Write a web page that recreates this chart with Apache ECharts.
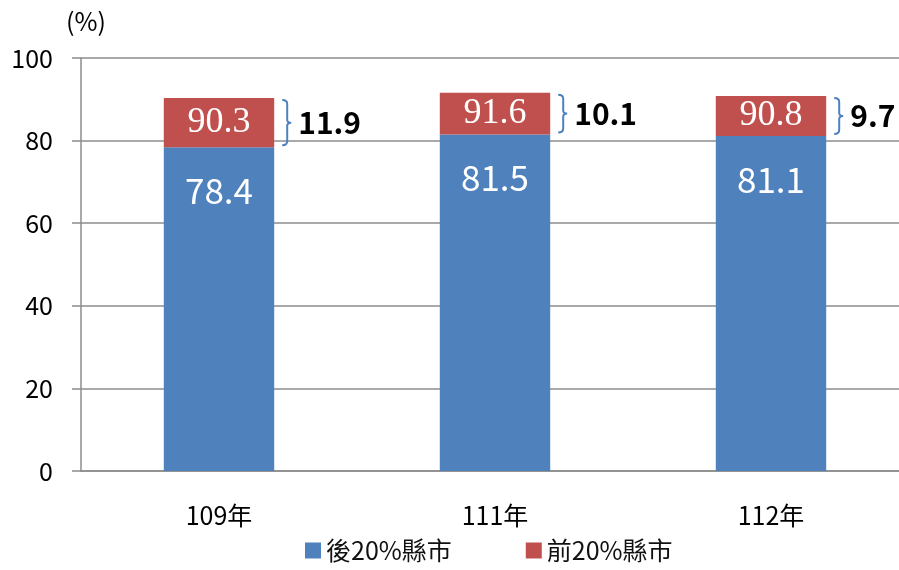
<!DOCTYPE html>
<html>
<head>
<meta charset="utf-8">
<script src="https://cdn.jsdelivr.net/npm/echarts@6/dist/echarts.min.js"></script>
<style>
  html, body { margin: 0; padding: 0; background: #fff; }
  #chart { width: 899px; height: 570px; }
</style>
</head>
<body>
<div id="chart"></div>
<script>
// 資料
const years = ['109年', '111年', '112年']
const lowGroup = [78.4, 81.5, 81.1]   // 後20%縣市
const highGroup = [90.3, 91.6, 90.8]  // 前20%縣市
const gapValues = [11.9, 10.1, 9.7]   // 差距
const yTicks = [0, 20, 40, 60, 80, 100]

const FONT = '"Noto Sans CJK TC", "Noto Sans", sans-serif'
const BLUE = '#4F81BD'
const RED = '#C0504D'
const GRAY = '#8c8c8c'

const chart = echarts.init(document.getElementById('chart'))

const braceData = years.map((y, i) => [i, lowGroup[i], highGroup[i], gapValues[i]])

chart.setOption({
    animation: false,
    grid: {
        left: 81,
        top: 58,
        bottom: 99,
        width: 828,
        outerBoundsMode: 'none'
    },
    legend: {
        data: ['後20%縣市', '前20%縣市'],
        bottom: 2,
        left: 300,
        itemWidth: 16,
        itemHeight: 16,
        itemGap: 74,
        icon: 'rect',
        textStyle: {
            fontFamily: FONT,
            fontSize: 25,
            color: '#111'
        }
    },
    xAxis: {
        type: 'category',
        data: years,
        axisLine: { lineStyle: { color: GRAY, width: 1.5 } },
        axisTick: { length: 9, lineStyle: { color: GRAY, width: 1.5 } },
        axisLabel: {
            margin: 32,
            fontFamily: FONT,
            fontSize: 25,
            color: '#000'
        }
    },
    yAxis: {
        type: 'value',
        min: yTicks[0],
        max: yTicks[yTicks.length - 1],
        interval: 20,
        name: '(%)',
        nameGap: 24,
        nameTextStyle: {
            fontFamily: FONT,
            fontSize: 25,
            color: '#000',
            align: 'center',
            padding: [0, 0, 0, 10]
        },
        axisLine: { show: true, lineStyle: { color: GRAY, width: 1.5 } },
        axisTick: { show: true, length: 9, lineStyle: { color: GRAY, width: 1.5 } },
        splitLine: { lineStyle: { color: GRAY, width: 1.5 } },
        axisLabel: {
            margin: 28,
            fontFamily: FONT,
            fontSize: 25,
            color: '#000'
        }
    },
    series: [
        {
            name: '後20%縣市',
            type: 'bar',
            stack: 'total',
            barWidth: '40%',
            data: lowGroup,
            itemStyle: { color: BLUE },
            label: {
                show: true,
                position: 'insideTop',
                distance: 26,
                color: '#fff',
                fontFamily: FONT,
                fontSize: 35
            },
            z: 2
        },
        {
            name: '前20%縣市',
            type: 'bar',
            stack: 'total',
            barWidth: '40%',
            data: gapValues,
            itemStyle: { color: RED },
            label: {
                show: true,
                position: 'inside',
                color: '#fff',
                fontFamily: '"Liberation Serif", "DejaVu Serif", serif',
                fontSize: 36,
                formatter: p => highGroup[p.dataIndex].toFixed(1)
            },
            z: 2
        },
        {
            // 右側括號與差距
            name: 'brace',
            type: 'custom',
            data: braceData,
            z: 3,
            renderItem(params, api) {
                const idx = api.value(0)
                const top = api.coord([idx, api.value(2)])
                const bot = api.coord([idx, api.value(1)])
                const band = api.size([1, 0])[0]
                const bx = top[0] + band * 0.2 + 13
                const ty = top[1] + 2
                const by = bot[1] - 2
                const my = (ty + by) / 2
                const path = [
                    'M', bx - 5, ty,
                    'Q', bx, ty, bx, ty + 4,
                    'L', bx, my - 3,
                    'Q', bx, my, bx + 4, my,
                    'Q', bx, my, bx, my + 3,
                    'L', bx, by - 4,
                    'Q', bx, by, bx - 5, by
                ].join(' ')
                return {
                    type: 'group',
                    children: [
                        {
                            type: 'path',
                            shape: { pathData: path },
                            style: { fill: null, stroke: BLUE, lineWidth: 2 }
                        },
                        {
                            type: 'text',
                            x: bx + 11,
                            y: my,
                            style: {
                                text: api.value(3).toFixed(1),
                                fill: '#000',
                                font: 'bold 30px ' + FONT,
                                align: 'left',
                                verticalAlign: 'middle'
                            }
                        }
                    ]
                }
            }
        }
    ]
})
</script>
</body>
</html>
